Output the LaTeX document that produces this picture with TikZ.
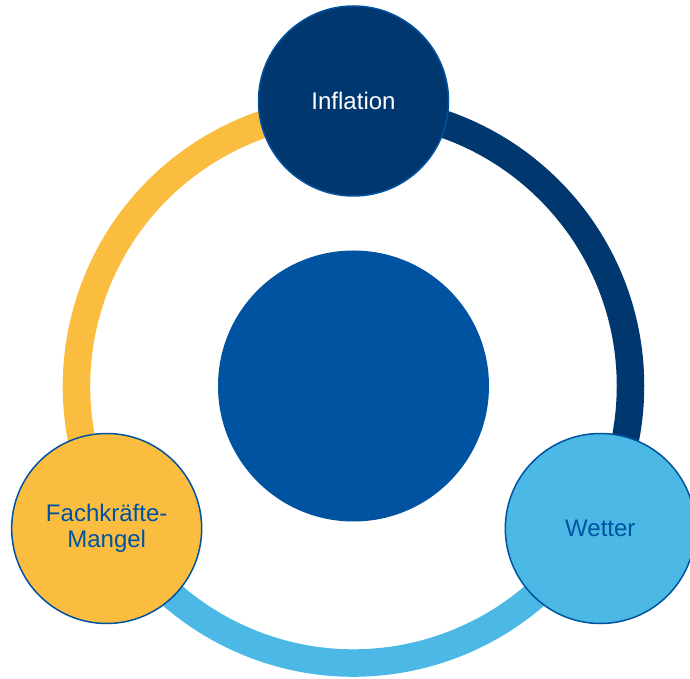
\documentclass[tikz,border=0pt]{standalone}
\usepackage{fontspec}
\setmainfont{Liberation Sans}
\definecolor{navy}{HTML}{00376E}
\definecolor{midblue}{HTML}{0053A0}
\definecolor{skyblue}{HTML}{4BB8E5}
\definecolor{sun}{HTML}{FBBD40}

\begin{document}
\begin{tikzpicture}[x=1pt, y=1pt,
        ring/.style={line width=27.5pt},
        topic/.style={circle, draw=midblue, line width=1.5pt, minimum size=190pt, inner sep=0pt, align=center, font=\fontsize{24}{26}\selectfont}]
        \useasboundingbox (-353.5, -293) rectangle (336.5, 386);
        \clip (-353.5, -293) rectangle (336.5, 386);

        % ring
        \draw[ring, navy] (90:277) arc (90:-30:277);
        \draw[ring, skyblue] (-30:277) arc (-30:-150:277);
        \draw[ring, sun] (210:277) arc (210:90:277);

        \node[circle, fill=midblue, minimum size=271pt, inner sep=0pt] (core) at (0, 0) {};

        \node[topic, fill=navy, text=white] (infl) at (90:285) {Inflation};
        \node[topic, fill=skyblue, text=midblue] (wetter) at (-30:285) {Wetter};
        \node[topic, fill=sun, text=midblue] (fach) at (210:285) {Fachkräfte-\\Mangel};
\end{tikzpicture}
\end{document}
